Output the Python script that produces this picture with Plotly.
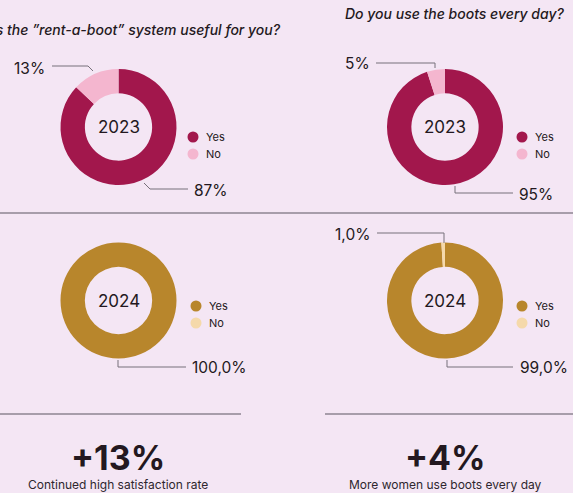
import plotly.graph_objects as go

# ---- data ----
answers = ["Yes", "No"]
years = ["2023", "2024"]
questions = ["Is the \u201drent-a-boot\u201d system useful for you?",
             "Do you use the boots every day?"]
useful_2023 = [87, 13]
useful_2024 = [100.0, 0.0]
daily_2023 = [95, 5]
daily_2024 = [99.0, 1.0]
captions = ["Continued high satisfaction rate", "More women use boots every day"]

colors_2023 = ["#A2174C", "#F4B6CF"]
colors_2024 = ["#B8862C", "#F5D9AA"]

W, H = 573, 493
BG = "#F4E6F4"
FONT = "Inter"
DARK = "#231820"
LINE = "#77707A"


def px(x, y):
    return x / W, 1 - y / H


def fmt(v, decimals):
    if decimals == 0:
        return f"{v:.0f}%"
    return f"{v:.1f}".replace(".", ",") + "%"


def note(x, y, text, size, anchor="center", color=DARK, weight=None):
    ax, ay = px(x, y)
    font = dict(family=FONT, size=size, color=color)
    if weight:
        font["weight"] = weight
    return dict(x=ax, y=ay, xref="paper", yref="paper", text=text,
                xanchor=anchor, yanchor="middle", showarrow=False, font=font)


fig = go.Figure()
shapes = []
annotations = []

R = 58
panels = [
    dict(values=useful_2023, colors=colors_2023, year=years[0], c=(118.5, 127),
         leg=(193, 137, 154), dec=0,
         labels=[(0, (192, 190), "left", [(144, 183), (150, 189), (188, 189)]),
                 (1, (47, 68), "right", [(52, 66), (88, 66), (93, 71)])]),
    dict(values=daily_2023, colors=colors_2023, year=years[0], c=(445, 127),
         leg=(522, 137, 154), dec=0,
         labels=[(0, (517, 194), "left", [(455, 186), (455, 193), (513, 193)]),
                 (1, (372, 63), "right", [(376, 63), (435, 63), (435, 68)])]),
    dict(values=useful_2024, colors=colors_2024, year=years[1], c=(118.5, 300.5),
         leg=(196, 306, 323), dec=1,
         labels=[(0, (190, 367), "left", [(118, 360), (118, 367), (186, 367)])]),
    dict(values=daily_2024, colors=colors_2024, year=years[1], c=(445, 300.5),
         leg=(522, 306, 323), dec=1,
         labels=[(0, (518, 367), "left", [(447, 360), (447, 367), (513, 367)]),
                 (1, (372, 234), "right", [(377, 233), (444, 233), (444, 243)])]),
]

for p in panels:
    cx, cy = p["c"]
    x0, y1 = px(cx - R, cy - R)
    x1, y0 = px(cx + R, cy + R)
    fig.add_trace(go.Pie(
        labels=answers, values=p["values"], hole=0.58, sort=False,
        direction="clockwise", rotation=0,
        marker=dict(colors=p["colors"], line=dict(width=0)),
        textinfo="none", hoverinfo="label+percent", showlegend=False,
        domain=dict(x=[x0, x1], y=[y0, y1]),
    ))
    # year in the hole
    annotations.append(note(cx, cy, p["year"], 17))
    # legend markers
    lx, ly1, ly2 = p["leg"]
    for name, col, ly in zip(answers, p["colors"], (ly1, ly2)):
        cx0, cy0 = px(lx - 5.5, ly - 5.5)
        cx1, cy1 = px(lx + 5.5, ly + 5.5)
        shapes.append(dict(type="circle", xref="paper", yref="paper",
                           x0=cx0, x1=cx1, y0=cy1, y1=cy0,
                           fillcolor=col, line=dict(width=0)))
        annotations.append(note(lx + 11, ly, name, 11, anchor="left"))
    # value labels with leader lines
    for idx, (tx, ty), anchor, pts in p["labels"]:
        annotations.append(note(tx, ty, fmt(p["values"][idx], p["dec"]), 15.5, anchor=anchor))
        path = "M " + " L ".join(f"{px(x, y)[0]},{px(x, y)[1]}" for x, y in pts)
        shapes.append(dict(type="path", xref="paper", yref="paper", path=path,
                           line=dict(color=LINE, width=1)))

# questions
annotations.append(note(283, 29, f"<i>{questions[0]}</i>", 14, anchor="right", weight=500))
annotations.append(note(566, 14, f"<i>{questions[1]}</i>", 14, anchor="right", weight=500))

# separators
for (xa, xb, y) in [(0, 573, 213), (0, 241, 414), (325, 573, 414)]:
    a = px(xa, y)
    b = px(xb, y)
    shapes.append(dict(type="line", xref="paper", yref="paper", x0=a[0], x1=b[0],
                       y0=a[1], y1=b[1], line=dict(color="#8E8592", width=1.5)))

# year-on-year change
changes = [useful_2024[0] - useful_2023[0], daily_2024[0] - daily_2023[0]]
for cxp, ch, cap in zip((118, 445), changes, captions):
    annotations.append(note(cxp, 457, f"<b>+{ch:.0f}%</b>", 34))
    annotations.append(note(cxp, 484, cap, 12, color="#2E262E"))

fig.update_layout(
    width=W, height=H, margin=dict(l=0, r=0, t=0, b=0),
    paper_bgcolor=BG, plot_bgcolor=BG,
    shapes=shapes, annotations=annotations,
)
fig.write_html("out.html")
